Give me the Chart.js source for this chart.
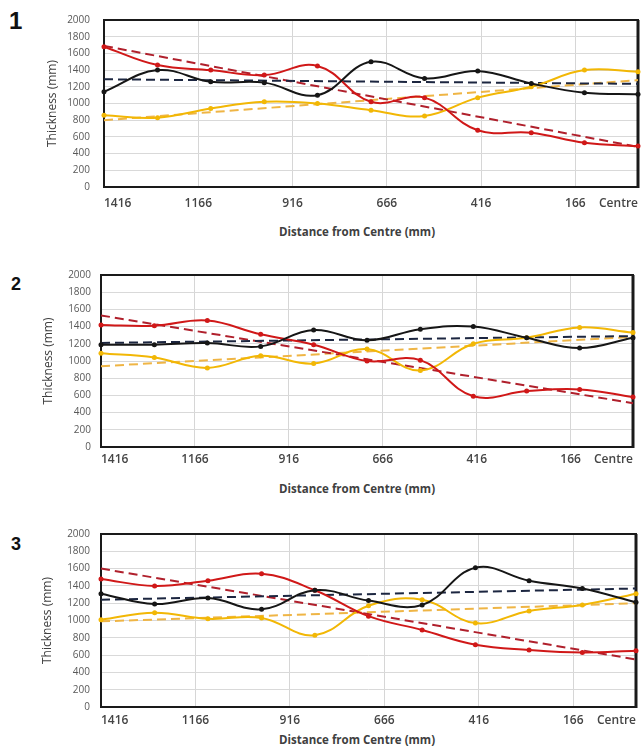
<!DOCTYPE html>
<html>
<head>
<meta charset="utf-8">
<script src="https://cdn.jsdelivr.net/npm/chart.js@4.4.1/dist/chart.umd.min.js"></script>
<style>
  body { margin: 0; background: #fff; width: 643px; height: 747px; position: relative; overflow: hidden; font-family: "Open Sans", sans-serif; }
  .panel { position: absolute; left: 0; width: 643px; height: 212px; }
  .num { position: absolute; font-family: "Liberation Sans", Arial, sans-serif; font-weight: bold; color: #111; line-height: 1; }
  .xtitle { position: absolute; left: 237px; width: 240px; text-align: center; font-size: 11.5px; font-weight: bold; color: #404040; line-height: 16px; }
</style>
</head>
<body>
<div class="num" style="left:9px; top:9px; font-size:24px;">1</div>
<div class="num" style="left:11px; top:275px; font-size:18px;">2</div>
<div class="num" style="left:11px; top:535px; font-size:18px;">3</div>

<div class="panel" style="top:0px;"><canvas id="chart1"></canvas></div>
<div class="panel" style="top:255px;"><canvas id="chart2"></canvas></div>
<div class="panel" style="top:515px;"><canvas id="chart3"></canvas></div>

<div class="xtitle" style="top:224px;">Distance from Centre (mm)</div>
<div class="xtitle" style="top:481px;">Distance from Centre (mm)</div>
<div class="xtitle" style="top:732px;">Distance from Centre (mm)</div>

<script>
// Measuring points, distance from centre in mm
const distances = [1416, 1274, 1133, 991, 850, 708, 566, 425, 283, 142, 0];
const xTickValues = [0, 166, 416, 666, 916, 1166, 1416];
const trendEnds = [1416, 0];

// Panel 1
const p1Black = [1140, 1400, 1260, 1250, 1100, 1500, 1300, 1390, 1240, 1130, 1110];
const p1Red = [1680, 1460, 1400, 1340, 1450, 1020, 1070, 680, 650, 530, 490];
const p1Yellow = [860, 830, 940, 1020, 1000, 920, 850, 1070, 1200, 1400, 1380];
const p1BlackTrend = [1290, 1235];
const p1RedTrend = [1690, 480];
const p1YellowTrend = [800, 1280];

// Panel 2
const p2Black = [1190, 1190, 1210, 1170, 1360, 1240, 1370, 1400, 1270, 1150, 1270];
const p2Red = [1420, 1410, 1470, 1310, 1190, 1000, 1010, 590, 650, 670, 580];
const p2Yellow = [1090, 1040, 920, 1060, 970, 1140, 890, 1200, 1270, 1390, 1330];
const p2BlackTrend = [1210, 1290];
const p2RedTrend = [1530, 510];
const p2YellowTrend = [940, 1280];

// Panel 3
const p3Black = [1310, 1190, 1260, 1130, 1350, 1230, 1180, 1610, 1460, 1370, 1210];
const p3Red = [1480, 1400, 1460, 1540, 1350, 1050, 890, 720, 660, 630, 650];
const p3Yellow = [1010, 1090, 1020, 1030, 830, 1170, 1240, 970, 1110, 1180, 1310];
const p3BlackTrend = [1240, 1370];
const p3RedTrend = [1600, 550];
const p3YellowTrend = [990, 1200];

const colors = {
  black: "#161616",
  red: "#d01818",
  yellow: "#f2b705",
  blackTrend: "#1c2640",
  redTrend: "#b0202c",
  yellowTrend: "#efb545"
};

// Frame around the plot area (Excel style box)
const plotFrame = {
  id: "plotFrame",
  beforeDatasetsDraw(chart) {
    const { ctx, chartArea: a } = chart;
    ctx.save();
    ctx.strokeStyle = "#1a1a1a";
    ctx.lineWidth = 2;
    ctx.strokeRect(a.left, a.top, a.right - a.left, a.bottom - a.top);
    ctx.lineWidth = 3;
    ctx.beginPath();
    ctx.moveTo(a.right, a.top);
    ctx.lineTo(a.right, a.bottom + 1);
    ctx.stroke();
    ctx.restore();
  }
};

function toPoints(values) {
  return distances.map((d, i) => ({ x: d, y: values[i] }));
}

function toTrend(ends) {
  return trendEnds.map((d, i) => ({ x: d, y: ends[i] }));
}

function solid(values, color) {
  return {
    data: toPoints(values),
    borderColor: color,
    backgroundColor: color,
    borderWidth: 2,
    pointRadius: 2.5,
    pointBorderWidth: 0,
    tension: 0.4,
    clip: false
  };
}

function dashed(ends, color) {
  return {
    data: toTrend(ends),
    borderColor: color,
    borderWidth: 2,
    borderDash: [9, 5],
    pointRadius: 0,
    tension: 0,
    clip: false
  };
}

function buildChart(id, series, layout) {
  const config = {
    type: "line",
    data: {
      datasets: [
        solid(series.black, colors.black),
        solid(series.red, colors.red),
        solid(series.yellow, colors.yellow),
        dashed(series.blackTrend, colors.blackTrend),
        dashed(series.redTrend, colors.redTrend),
        dashed(series.yellowTrend, colors.yellowTrend)
      ]
    },
    options: {
      responsive: true,
      maintainAspectRatio: false,
      animation: false,
      layout: {
        padding: { top: layout.padTop, left: layout.padLeft, right: layout.padRight, bottom: 0 }
      },
      plugins: {
        legend: { display: false },
        tooltip: { enabled: false }
      },
      scales: {
        x: {
          type: "linear",
          min: 0,
          max: 1416,
          reverse: true,
          afterBuildTicks: (axis) => {
            axis.ticks = xTickValues.map(v => ({ value: v }));
          },
          afterFit: (axis) => { axis.height = layout.xHeight; },
          ticks: {
            align: "inner",
            padding: layout.xTickPad,
            color: "#454545",
            font: { family: "Open Sans", size: 12, weight: "600" },
            maxRotation: 0,
            callback: (v) => v === 0 ? "Centre" : String(v)
          },
          grid: {
            drawTicks: false,
            color: (ctx) => (ctx.tick && (ctx.tick.value === 0 || ctx.tick.value === 1416)) ? "rgba(0,0,0,0)" : "#d6d6d6"
          },
          border: { display: false }
        },
        y: {
          min: 0,
          max: 2000,
          afterFit: (axis) => { axis.width = layout.yWidth; },
          ticks: {
            stepSize: 200,
            padding: layout.yTickPad,
            color: "#595959",
            font: { family: "Open Sans", size: 10 },
            callback: (v) => String(v)
          },
          grid: { drawTicks: false, color: "#d9d9d9" },
          border: { display: false },
          title: {
            display: true,
            text: "Thickness (mm)",
            color: "#404040",
            font: { family: "Open Sans", size: 12 }
          }
        }
      }
    },
    plugins: [plotFrame]
  };
  return new Chart(document.getElementById(id), config);
}

buildChart("chart1",
  { black: p1Black, red: p1Red, yellow: p1Yellow, blackTrend: p1BlackTrend, redTrend: p1RedTrend, yellowTrend: p1YellowTrend },
  { padTop: 15, padLeft: 41, padRight: 5, yWidth: 63, yTickPad: 14, xTickPad: 9, xHeight: 25 });

buildChart("chart2",
  { black: p2Black, red: p2Red, yellow: p2Yellow, blackTrend: p2BlackTrend, redTrend: p2RedTrend, yellowTrend: p2YellowTrend },
  { padTop: 20, padLeft: 37, padRight: 10, yWidth: 64, yTickPad: 10, xTickPad: 5, xHeight: 20 });

buildChart("chart3",
  { black: p3Black, red: p3Red, yellow: p3Yellow, blackTrend: p3BlackTrend, redTrend: p3RedTrend, yellowTrend: p3YellowTrend },
  { padTop: 19, padLeft: 36, padRight: 7, yWidth: 65, yTickPad: 11, xTickPad: 6, xHeight: 20 });
</script>
</body>
</html>
